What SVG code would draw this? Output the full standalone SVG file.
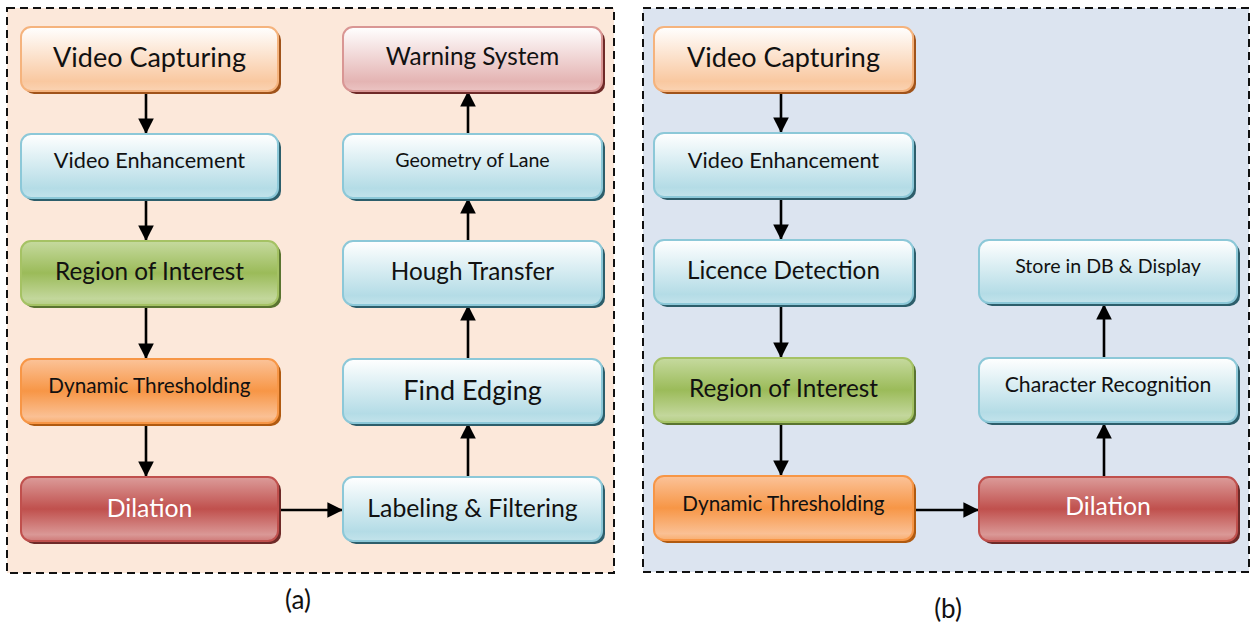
<svg xmlns="http://www.w3.org/2000/svg" width="1251" height="623" viewBox="0 0 1251 623">
<defs>
<style>
text{font-family:Lato,"Noto Sans","Liberation Sans",sans-serif;text-anchor:middle;fill:#111}
.panel{stroke:#111;stroke-width:2;stroke-dasharray:8 5}
.conn line{stroke:#000;stroke-width:2.6}
.lo{fill:url(#gLO);stroke:#F5B37D;stroke-width:2}
.lb{fill:url(#gLB);stroke:#8CC8D8;stroke-width:2}
.lr{fill:url(#gLR);stroke:#D99694;stroke-width:2}
.gr{fill:url(#gGR);stroke:#A5C264;stroke-width:2}
.or{fill:url(#gOR);stroke:#F79646;stroke-width:2}
.rd{fill:url(#gRD);stroke:#C0504D;stroke-width:2}
.sLO{fill:#A0531A}.sLB{fill:#2D5E6B}.sLR{fill:#6E2A28}.sGR{fill:#5A7430}.sOR{fill:#B05A10}.sRD{fill:#6E2A28}
</style>
<linearGradient id="gLO" x1="0" y1="0" x2="0" y2="1"><stop offset="0" stop-color="#FFFFFF"/><stop offset="0.85" stop-color="#F9C8A0"/><stop offset="1" stop-color="#FAD3B3"/></linearGradient>
<linearGradient id="gLB" x1="0" y1="0" x2="0" y2="1"><stop offset="0" stop-color="#FFFFFF"/><stop offset="0.85" stop-color="#B4DCE6"/><stop offset="1" stop-color="#C3E3EB"/></linearGradient>
<linearGradient id="gLR" x1="0" y1="0" x2="0" y2="1"><stop offset="0" stop-color="#FFFFFF"/><stop offset="0.85" stop-color="#E4B4B3"/><stop offset="1" stop-color="#EBC4C3"/></linearGradient>
<linearGradient id="gGR" x1="0" y1="0" x2="0" y2="1"><stop offset="0" stop-color="#C6DA9F"/><stop offset="0.5" stop-color="#9BBB59"/><stop offset="0.9" stop-color="#C3D79C"/><stop offset="1" stop-color="#B6CE86"/></linearGradient>
<linearGradient id="gOR" x1="0" y1="0" x2="0" y2="1"><stop offset="0" stop-color="#FBC399"/><stop offset="0.5" stop-color="#F79646"/><stop offset="0.9" stop-color="#FAC094"/><stop offset="1" stop-color="#F8AE70"/></linearGradient>
<linearGradient id="gRD" x1="0" y1="0" x2="0" y2="1"><stop offset="0" stop-color="#DC9C9A"/><stop offset="0.5" stop-color="#C0504D"/><stop offset="0.9" stop-color="#DA9896"/><stop offset="1" stop-color="#CF7A78"/></linearGradient>
<marker id="ah" viewBox="0 0 10 10" refX="10" refY="5" markerWidth="6" markerHeight="6" markerUnits="strokeWidth" orient="auto"><path d="M0,0 L10,5 L0,10 Z" fill="#000"/></marker>
</defs>

<g id="panel-a"><rect class="panel" x="7" y="8" width="607" height="565" fill="#FCE8DA"/></g>
<g id="panel-b"><rect class="panel" x="643" y="8" width="606" height="564" fill="#DCE4F0"/></g>

<g class="conn" id="connectors">
<line x1="146" y1="91" x2="146" y2="134" marker-end="url(#ah)"/>
<line x1="146" y1="198" x2="146" y2="241" marker-end="url(#ah)"/>
<line x1="146" y1="305" x2="146" y2="359" marker-end="url(#ah)"/>
<line x1="146" y1="423" x2="146" y2="477" marker-end="url(#ah)"/>
<line x1="280" y1="510" x2="343" y2="510" marker-end="url(#ah)"/>
<line x1="468" y1="477" x2="468" y2="423" marker-end="url(#ah)"/>
<line x1="468" y1="359" x2="468" y2="305" marker-end="url(#ah)"/>
<line x1="468" y1="241" x2="468" y2="198" marker-end="url(#ah)"/>
<line x1="468" y1="134" x2="468" y2="91" marker-end="url(#ah)"/>
<line x1="781" y1="91" x2="781" y2="133" marker-end="url(#ah)"/>
<line x1="781" y1="197" x2="781" y2="240" marker-end="url(#ah)"/>
<line x1="781" y1="305" x2="781" y2="358" marker-end="url(#ah)"/>
<line x1="781" y1="422" x2="781" y2="476" marker-end="url(#ah)"/>
<line x1="914" y1="510" x2="979" y2="510" marker-end="url(#ah)"/>
<line x1="1104" y1="477" x2="1104" y2="423" marker-end="url(#ah)"/>
<line x1="1104" y1="358" x2="1104" y2="304" marker-end="url(#ah)"/>
</g>

<g id="a-video-capturing"><rect class="sLO" x="24" y="30" width="257" height="64" rx="10"/><rect class="lo" x="21" y="27" width="257" height="64" rx="10"/><text x="149.5" y="67" font-size="27">Video Capturing</text></g>
<g id="a-video-enhancement"><rect class="sLB" x="24" y="137" width="257" height="64" rx="10"/><rect class="lb" x="21" y="134" width="257" height="64" rx="10"/><text x="149.5" y="168" font-size="21.7">Video Enhancement</text></g>
<g id="a-region-of-interest"><rect class="sGR" x="24" y="244" width="257" height="64" rx="10"/><rect class="gr" x="21" y="241" width="257" height="64" rx="10"/><text x="149.5" y="280" font-size="24.3">Region of Interest</text></g>
<g id="a-dynamic-thresholding"><rect class="sOR" x="24" y="362" width="257" height="64" rx="10"/><rect class="or" x="21" y="359" width="257" height="64" rx="10"/><text x="149.5" y="393" font-size="20.7">Dynamic Thresholding</text></g>
<g id="a-dilation"><rect class="sRD" x="24" y="480" width="257" height="64" rx="10"/><rect class="rd" x="21" y="477" width="257" height="64" rx="10"/><text x="149.5" y="517" font-size="24.8" style="fill:#fff">Dilation</text></g>

<g id="a-warning-system"><rect class="sLR" x="346" y="30" width="259" height="64" rx="10"/><rect class="lr" x="343" y="27" width="259" height="64" rx="10"/><text x="472.5" y="65" font-size="24.3">Warning System</text></g>
<g id="a-geometry-of-lane"><rect class="sLB" x="346" y="137" width="259" height="64" rx="10"/><rect class="lb" x="343" y="134" width="259" height="64" rx="10"/><text x="472.5" y="167" font-size="19.6">Geometry of Lane</text></g>
<g id="a-hough-transfer"><rect class="sLB" x="346" y="244" width="259" height="64" rx="10"/><rect class="lb" x="343" y="241" width="259" height="64" rx="10"/><text x="472.5" y="280" font-size="24.3">Hough Transfer</text></g>
<g id="a-find-edging"><rect class="sLB" x="346" y="362" width="259" height="64" rx="10"/><rect class="lb" x="343" y="359" width="259" height="64" rx="10"/><text x="472.5" y="400" font-size="27">Find Edging</text></g>
<g id="a-labeling-filtering"><rect class="sLB" x="346" y="480" width="259" height="64" rx="10"/><rect class="lb" x="343" y="477" width="259" height="64" rx="10"/><text x="472.5" y="517" font-size="24.8">Labeling &amp; Filtering</text></g>

<g id="b-video-capturing"><rect class="sLO" x="657" y="30" width="259" height="64" rx="10"/><rect class="lo" x="654" y="27" width="259" height="64" rx="10"/><text x="783.5" y="67" font-size="27">Video Capturing</text></g>
<g id="b-video-enhancement"><rect class="sLB" x="657" y="136" width="259" height="64" rx="10"/><rect class="lb" x="654" y="133" width="259" height="64" rx="10"/><text x="783.5" y="168" font-size="21.7">Video Enhancement</text></g>
<g id="b-licence-detection"><rect class="sLB" x="657" y="243" width="259" height="64" rx="10"/><rect class="lb" x="654" y="240" width="259" height="64" rx="10"/><text x="783.5" y="279" font-size="24.3">Licence Detection</text></g>
<g id="b-region-of-interest"><rect class="sGR" x="657" y="361" width="259" height="64" rx="10"/><rect class="gr" x="654" y="358" width="259" height="64" rx="10"/><text x="783.5" y="397" font-size="24.3">Region of Interest</text></g>
<g id="b-dynamic-thresholding"><rect class="sOR" x="657" y="479" width="259" height="64" rx="10"/><rect class="or" x="654" y="476" width="259" height="64" rx="10"/><text x="783.5" y="511" font-size="20.7">Dynamic Thresholding</text></g>

<g id="b-store-in-db"><rect class="sLB" x="982" y="243" width="258" height="63" rx="10"/><rect class="lb" x="979" y="240" width="258" height="63" rx="10"/><text x="1108" y="273" font-size="19.6">Store in DB &amp; Display</text></g>
<g id="b-character-recognition"><rect class="sLB" x="982" y="361" width="258" height="64" rx="10"/><rect class="lb" x="979" y="358" width="258" height="64" rx="10"/><text x="1108" y="392" font-size="21.2">Character Recognition</text></g>
<g id="b-dilation"><rect class="sRD" x="982" y="480" width="258" height="64" rx="10"/><rect class="rd" x="979" y="477" width="258" height="64" rx="10"/><text x="1108" y="515" font-size="24.8" style="fill:#fff">Dilation</text></g>

<text x="298" y="609" font-size="26">(a)</text>
<text x="948" y="618" font-size="26">(b)</text>
</svg>
